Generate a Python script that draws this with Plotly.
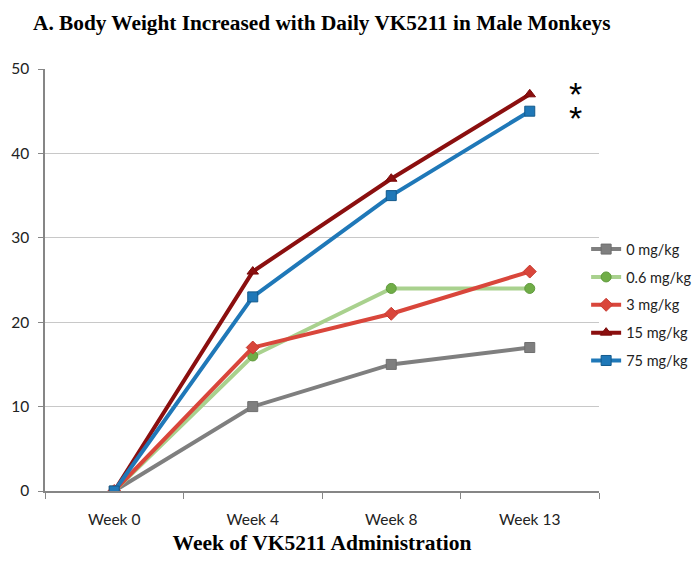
import plotly.graph_objects as go

weeks = ["Week 0", "Week 4", "Week 8", "Week 13"]
dose_0 = [0, 10, 15, 17]
dose_06 = [0, 16, 24, 24]
dose_3 = [0, 17, 21, 26]
dose_15 = [0, 26, 37, 47]
dose_75 = [0, 23, 35, 45]

series = [
    ("0 mg/kg", dose_0, "#7f7f7f", "#7f7f7f", "square", "#6f6f6f"),
    ("0.6 mg/kg", dose_06, "#a9d18e", "#70ad47", "circle", "#5f9a3c"),
    ("3 mg/kg", dose_3, "#d9463b", "#d9463b", "diamond", "#c73a30"),
    ("15 mg/kg", dose_15, "#8b0f0f", "#8b0f0f", "triangle-up", "#7a0a0a"),
    ("75 mg/kg", dose_75, "#1f78b8", "#1f78b8", "square", "#135a8c"),
]

# Page has an 8px body margin; compensate so the plot lands where the reference has it.
OFF = 8
W, H = 700, 580 - OFF

fig = go.Figure()
for i, (name, vals, lc, mc, sym, oc) in enumerate(series):
    fig.add_trace(go.Scatter(
        x=weeks, y=vals, name=name, mode="lines+markers",
        legendgroup=f"g{i}",
        line=dict(color=lc, width=4),
        marker=dict(color=mc, symbol=sym, size=10, line=dict(color=oc, width=1)),
    ))

fig.update_layout(
    width=W, height=H,
    margin=dict(l=45 - OFF, r=W - (600 - OFF), t=69 - OFF, b=89),
    paper_bgcolor="white", plot_bgcolor="white",
    title=dict(text="<b>A. Body Weight Increased with Daily VK5211 in Male Monkeys</b>",
               font=dict(family="Liberation Serif", size=21.3, color="black"),
               x=(33 - OFF) / W, xanchor="left", y=1 - (23 - OFF) / H, yanchor="middle"),
    legend=dict(x=0.975, y=0.611, xanchor="left", yanchor="top",
                font=dict(family="Lato", size=14.5, color="#222"),
                itemwidth=30, tracegroupgap=6, bgcolor="rgba(0,0,0,0)"),
    showlegend=True,
)
fig.update_xaxes(
    type="category", range=[-0.5, 3.5], tickson="boundaries",
    ticks="outside", ticklen=6, tickcolor="#868686",
    showline=True, linecolor="#868686", linewidth=1.5,
    showgrid=False, automargin=False,
    ticklabelstandoff=14,
    tickfont=dict(family="Lato", size=15.5, color="#222"),
    title=dict(text="<b>Week of VK5211 Administration</b>",
               font=dict(family="Liberation Serif", size=21.5, color="black"), standoff=8),
)
fig.update_yaxes(
    range=[0, 50], dtick=10,
    ticks="outside", ticklen=5, tickcolor="#868686",
    showline=True, linecolor="#868686", linewidth=1.5,
    showgrid=True, gridcolor="#c8c8c8", gridwidth=1,
    zeroline=False, automargin=False,
    ticklabelstandoff=6,
    tickfont=dict(family="Lato", size=15.5, color="#222"),
)
for v, shift in ((dose_15[-1], 0), (dose_75[-1], -7)):
    fig.add_annotation(text="*", xref="paper", yref="y", x=0.973, y=v,
                       showarrow=False, font=dict(family="Liberation Sans", size=34, color="black"),
                       yshift=shift)

fig.write_html("out.html")
